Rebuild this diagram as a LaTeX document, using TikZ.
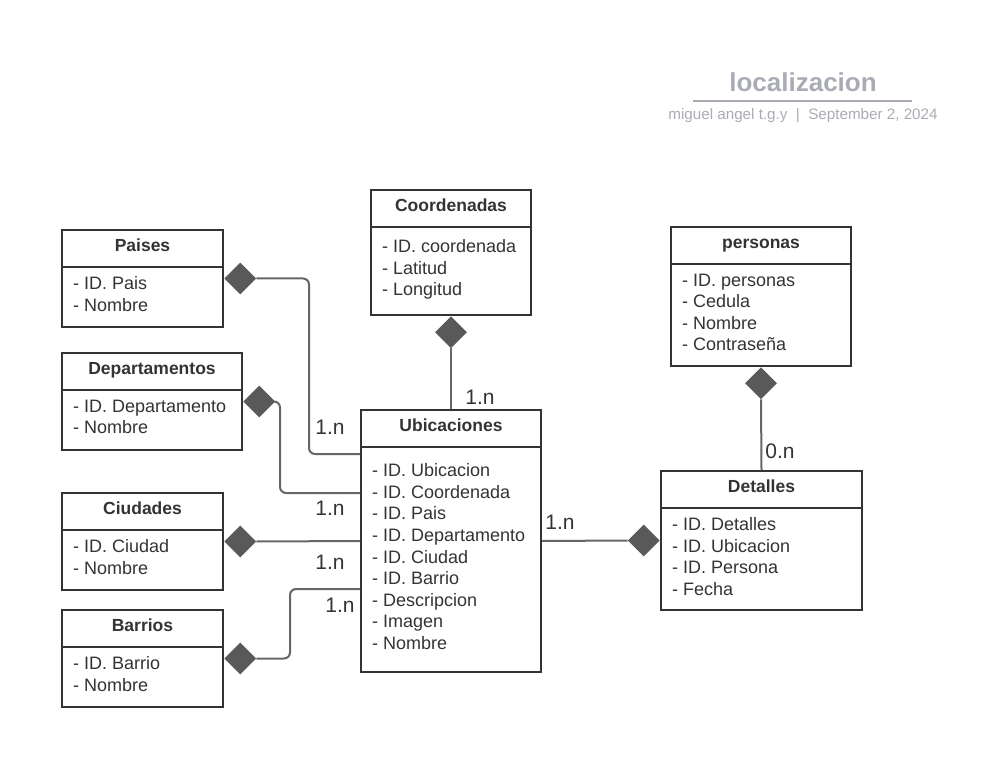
\documentclass[tikz,border=0pt]{standalone}
\usepackage{fontspec}
\setmainfont{Liberation Sans}
\usetikzlibrary{calc,shapes.geometric}
\definecolor{borde}{HTML}{333333}
\definecolor{linea}{HTML}{666666}
\definecolor{rombocol}{HTML}{595959}
\definecolor{gris}{HTML}{A9ACB5}
\tikzset{
  caja/.style={draw=borde, line width=2pt, inner sep=0pt},
  titulo/.style={text=borde, anchor=base, inner sep=0pt, font=\fontsize{17.5}{21}\selectfont\bfseries},
  campos/.style={text=borde, align=left, anchor=north west, inner sep=0pt, font=\fontsize{18}{21.6}\selectfont},
  rombo/.style={diamond, fill=rombocol, inner sep=0pt, minimum width=32pt, minimum height=32pt},
  conector/.style={draw=linea, line width=2pt, rounded corners=6pt},
  card/.style={text=borde, font=\fontsize{21}{25}\selectfont}
}
% #1 nombre, #2 x, #3 y, #4 ancho, #5 alto, #6 titulo, #7 campos, #8 primera linea
\newcommand\entidad[8]{%
  \node[caja, minimum width=#4pt, minimum height=#5pt, anchor=north west] (#1) at (#2,#3) {};
  \draw[caja] ($(#1.north west)+(0,38)$) -- ($(#1.north east)+(0,38)$);
  \node[titulo] at ($(#1.north)+(0,22.3)$) {#6};
  \node[campos] at ($(#1.north west)+(12,#8-6.5)$) {#7};
}

\begin{document}
\begin{tikzpicture}[x=1pt, y=-1pt]
		\useasboundingbox (0,0) rectangle (982,767);
		
		%%%%% TITULO %%%%%
		\node[text=gris, font=\fontsize{26}{30}\selectfont\bfseries] (tit) at (803,82) {localizacion};
		\draw[gris, line width=2pt] (693,101) -- (912,101);
		\node[text=gris, font=\fontsize{15.2}{18}\selectfont] (sub) at (803,116) {miguel angel t.g.y\ \ |\ \ September 2, 2024};
		
		%%%%% TABLAS %%%%%
		\entidad{pais}{61}{229}{161}{97}{Paises}{- ID. Pais\\- Nombre}{54}
		\entidad{depto}{61}{352}{180}{97}{Departamentos}{- ID. Departamento\\- Nombre}{54}
		\entidad{ciudad}{61}{492}{161}{97}{Ciudades}{- ID. Ciudad\\- Nombre}{54}
		\entidad{barrio}{61}{609}{161}{97}{Barrios}{- ID. Barrio\\- Nombre}{54}
		\entidad{coord}{370}{189}{160}{125}{Coordenadas}{- ID. coordenada\\- Latitud\\- Longitud}{57}
		\entidad{ubic}{360}{409}{180}{262}{Ubicaciones}{- ID. Ubicacion\\- ID. Coordenada\\- ID. Pais\\- ID. Departamento\\- ID. Ciudad\\- ID. Barrio\\- Descripcion\\- Imagen\\- Nombre}{61}
		\entidad{persona}{670}{226}{180}{139}{personas}{- ID. personas\\- Cedula\\- Nombre\\- Contraseña}{54}
		\entidad{detalle}{660}{470}{201}{139}{Detalles}{- ID. Detalles\\- ID. Ubicacion\\- ID. Persona\\- Fecha}{54}
		
		%%%%% ROMBOS %%%%%
		\node[rombo, anchor=west] (dpais) at (pais.east) {};
		\node[rombo, anchor=west] (ddepto) at (depto.east) {};
		\node[rombo, anchor=west] (dciudad) at (ciudad.east) {};
		\node[rombo, anchor=west] (dbarrio) at (barrio.east) {};
		\node[rombo, anchor=north] (dcoord) at (coord.south) {};
		\node[rombo, anchor=north] (dpersona) at (persona.south) {};
		\node[rombo, anchor=east] (ddetalle) at (detalle.west) {};
		
		%%%%% RELACIONES %%%%%
		\draw[conector] (dpais.east) -| ($(ubic.north west)+(-51,45)$) -- ($(ubic.north west)+(0,45)$);
		\draw[conector] (ddepto.east) -| ($(ubic.north west)+(-80,84)$) -- ($(ubic.north west)+(0,84)$);
		\draw[conector] (dciudad.east) -- (ubic.west);
		\draw[conector] (dbarrio.east) -| ($(ubic.north west)+(-70,180)$) -- ($(ubic.north west)+(0,180)$);
		\draw[conector] (dcoord.south) -- (ubic.north);
		\draw[conector] (ubic.east) -- (ddetalle.west);
		\draw[conector] (dpersona.south) -- (detalle.north);
		
		\node[card] (c1) at (330,427) {1.n};
		\node[card] (c2) at (330,508) {1.n};
		\node[card] (c3) at (330,562) {1.n};
		\node[card] (c4) at (340,605) {1.n};
		\node[card] (c5) at (480,397) {1.n};
		\node[card] (c6) at (560,522) {1.n};
		\node[card] (c7) at (780,451) {0.n};
		
	\end{tikzpicture}
\end{document}
